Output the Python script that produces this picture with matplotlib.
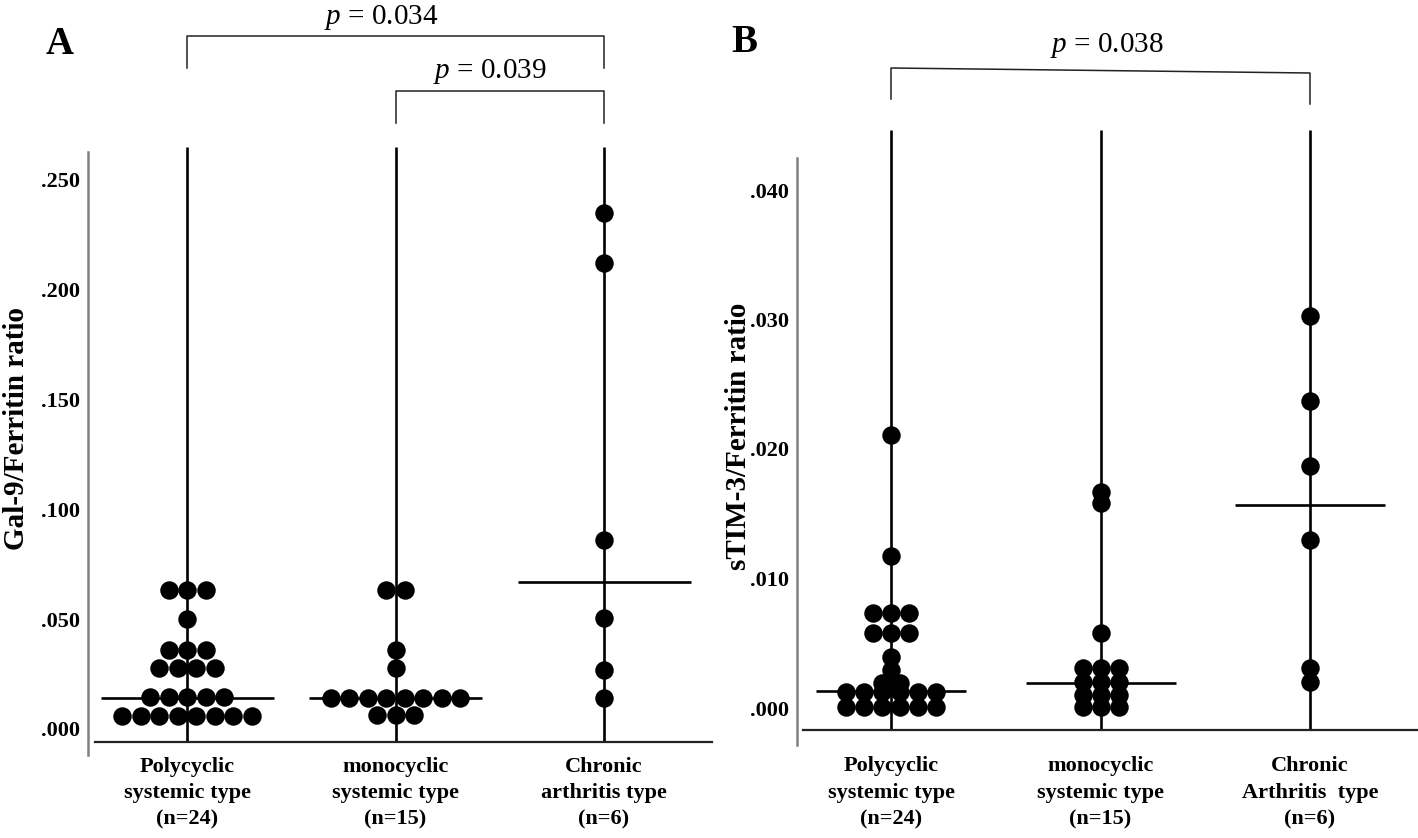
import matplotlib
matplotlib.use("Agg")
import matplotlib.pyplot as plt
import numpy as np
from matplotlib.transforms import blended_transform_factory as btf

W, H, DPI = 1418, 838, 100
plt.rcParams['font.family'] = ['Liberation Serif', 'DejaVu Serif']
plt.rcParams['mathtext.fontset'] = 'custom'
plt.rcParams['mathtext.rm'] = 'Liberation Serif'
plt.rcParams['mathtext.it'] = 'Liberation Serif:italic'

# ---------------- data ----------------
cats_a = ["Polycyclic\nsystemic type\n(n=24)", "monocyclic\nsystemic type\n(n=15)",
          "Chronic\narthritis type\n(n=6)"]
cats_b = ["Polycyclic\nsystemic type\n(n=24)", "monocyclic\nsystemic type\n(n=15)",
          "Chronic\nArthritis  type\n(n=6)"]

# Panel A: Gal-9/Ferritin ratio (dot-plot bin values)
a_poly = [0.0633, 0.0633, 0.0633, 0.0500, 0.0361, 0.0361, 0.0361,
          0.0276, 0.0276, 0.0276, 0.0276,
          0.0146, 0.0146, 0.0146, 0.0146, 0.0146,
          0.0060, 0.0060, 0.0060, 0.0060, 0.0060, 0.0060, 0.0060, 0.0060]
a_mono = [0.0633, 0.0633, 0.0361, 0.0276,
          0.0143, 0.0143, 0.0143, 0.0143, 0.0143, 0.0143, 0.0143, 0.0143,
          0.0062, 0.0062, 0.0062]
a_chronic = [0.2347, 0.2119, 0.0859, 0.0505, 0.0268, 0.0141]
a_medians = [0.0139, 0.0141, 0.0668]
a_ticks = [0.0, 0.05, 0.10, 0.15, 0.20, 0.25]
a_ticklabels = [".000", ".050", ".100", ".150", ".200", ".250"]

# Panel B: sTIM-3/Ferritin ratio
b_poly = [0.0211, 0.0117, 0.0073, 0.0073, 0.0073, 0.0058, 0.0058, 0.0058,
          0.0039, 0.0029, 0.0019, 0.0019,
          0.0012, 0.0012, 0.0012, 0.0012, 0.0012, 0.0012,
          0.0001, 0.0001, 0.0001, 0.0001, 0.0001, 0.0001]
b_mono = [0.0167, 0.0158, 0.0058,
          0.0031, 0.0031, 0.0031, 0.0020, 0.0020, 0.0020,
          0.0010, 0.0010, 0.0010, 0.0001, 0.0001, 0.0001]
b_chronic = [0.0303, 0.0237, 0.0187, 0.0130, 0.0031, 0.0020]
b_medians = [0.0013, 0.0019, 0.0157]
b_ticks = [0.0, 0.01, 0.02, 0.03, 0.04]
b_ticklabels = [".000", ".010", ".020", ".030", ".040"]

p_a = ["0.034", "0.039"]
p_b = ["0.038"]

# ---------------- figure ----------------
fig = plt.figure(figsize=(W / DPI, H / DPI), dpi=DPI)

def fx(px):
    return px / W

def fy(py):
    return 1 - py / H

def swarm_offsets(vals, spacing):
    vals = np.asarray(vals)
    offs = np.zeros(len(vals))
    for v in np.unique(vals):
        idx = np.where(vals == v)[0]
        n = len(idx)
        offs[idx] = (np.arange(n) - (n - 1) / 2) * spacing
    return offs

def panel(rect, groups, medians, cats, ticks, ticklabels, xlim, ylim,
          spacing, half, xline0, yaxis_top, yaxis_bot, xpad):
    ax = fig.add_axes(rect)
    ax.set_xlim(*xlim)
    ax.set_ylim(*ylim)
    for s in ax.spines.values():
        s.set_visible(False)
    pos = np.arange(len(groups))
    tr = btf(ax.transData, ax.transAxes)
    for i, vals in enumerate(groups):
        ax.plot([pos[i], pos[i]], [0, 1], transform=tr, color='black', lw=1.9,
                zorder=2, solid_capstyle='butt')
        offs = swarm_offsets(vals, spacing)
        ax.plot(pos[i] + offs, vals, 'o', color='black', ms=13.3, mew=0, zorder=3)
        ax.plot([pos[i] - half, pos[i] + half], [medians[i], medians[i]],
                color='black', lw=1.9, zorder=2, solid_capstyle='butt')
    # axis lines
    ax.plot([xline0, 1.0], [0, 0], transform=ax.transAxes, color='#222222',
            lw=1.6, clip_on=False)
    ax.plot([0, 0], [yaxis_bot, yaxis_top], transform=ax.transAxes,
            color='#808080', lw=1.8, clip_on=False)
    ax.set_yticks(ticks)
    ax.set_yticklabels(ticklabels, fontsize=16, fontweight='bold')
    ax.set_xticks(pos)
    ax.set_xticklabels(cats, fontsize=16, fontweight='bold', linespacing=1.42)
    ax.tick_params(axis='y', length=0, pad=6)
    ax.tick_params(axis='x', length=0, pad=xpad)
    return ax, tr

# Panel A geometry
axA_l, axA_r, axA_t, axA_b = 88, 712, 147, 742
unitA = (604 - 187) / 2
a_zero, a_scale = 729, 2199.0
axA, trA = panel([fx(axA_l), fy(axA_b), (axA_r - axA_l) / W, (axA_b - axA_t) / H],
                 [a_poly, a_mono, a_chronic], a_medians, cats_a, a_ticks, a_ticklabels,
                 (-(187 - axA_l) / unitA, 2 + (axA_r - 604) / unitA),
                 ((a_zero - axA_b) / a_scale, (a_zero - axA_t) / a_scale),
                 18.5 / unitA, 86.5 / unitA,
                 (95 - axA_l) / (axA_r - axA_l),
                 (axA_b - 152) / (axA_b - axA_t), (axA_b - 755) / (axA_b - axA_t), 10.5)

# Panel B geometry
axB_l, axB_r, axB_t, axB_b = 797, 1418, 130, 730
unitB = (1310 - 891) / 2
b_zero, b_scale = 708, 12950.0
axB, trB = panel([fx(axB_l), fy(axB_b), (axB_r - axB_l) / W, (axB_b - axB_t) / H],
                 [b_poly, b_mono, b_chronic], b_medians, cats_b, b_ticks, b_ticklabels,
                 (-(891 - axB_l) / unitB, 2 + (axB_r - 1310) / unitB),
                 ((b_zero - axB_b) / b_scale, (b_zero - axB_t) / b_scale),
                 18.0 / unitB, 75 / unitB,
                 (803 - axB_l) / (axB_r - axB_l),
                 (axB_b - 158) / (axB_b - axB_t), (axB_b - 745) / (axB_b - axB_t), 19)

def afrac(py, top, bot):
    return (bot - py) / (bot - top)

# brackets A
fa = lambda py: afrac(py, axA_t, axA_b)
axA.plot([0, 0, 2, 2], [fa(68), fa(36), fa(36), fa(68)], transform=trA,
         color='#222222', lw=1.1, clip_on=False)
axA.plot([1, 1, 2, 2], [fa(123), fa(91), fa(91), fa(123)], transform=trA,
         color='#222222', lw=1.1, clip_on=False)
fig.text(fx(381), fy(18), r"$p$ = " + p_a[0], fontsize=21, ha='center', va='center')
fig.text(fx(490), fy(72), r"$p$ = " + p_a[1], fontsize=21, ha='center', va='center')

# bracket B (slightly slanted as in original)
fb = lambda py: afrac(py, axB_t, axB_b)
axB.plot([0, 0, 2, 2], [fb(99), fb(68), fb(73), fb(104)], transform=trB,
         color='#222222', lw=1.1, clip_on=False)
fig.text(fx(1107), fy(46), r"$p$ = " + p_b[0], fontsize=21, ha='center', va='center')

# panel letters
fig.text(fx(60), fy(45), "A", fontsize=28, fontweight='bold', ha='center', va='center')
fig.text(fx(744), fy(42), "B", fontsize=28, fontweight='bold', ha='center', va='center')

# y labels
fig.text(fx(17), fy(428), "Gal-9/Ferritin ratio", fontsize=21, fontweight='bold',
         rotation=90, ha='center', va='center')
fig.text(fx(738), fy(436), "sTIM-3/Ferritin ratio", fontsize=21, fontweight='bold',
         rotation=90, ha='center', va='center')

fig.savefig("out.png", dpi=DPI)
